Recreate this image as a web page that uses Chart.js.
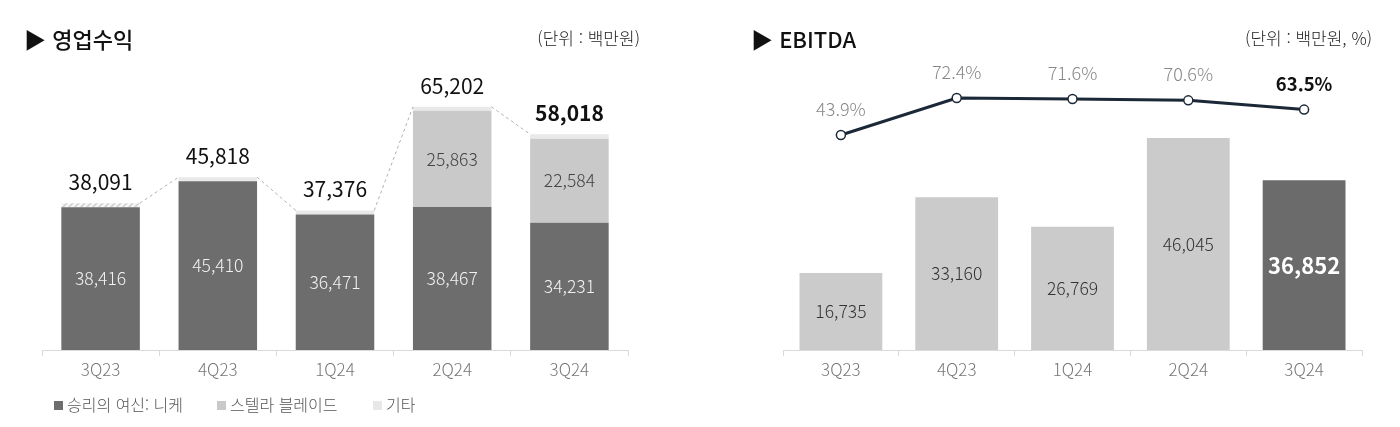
<!DOCTYPE html>
<html lang="ko">
<head>
<meta charset="utf-8">
<script src="https://cdn.jsdelivr.net/npm/chart.js@4.4.1/dist/chart.umd.min.js"></script>
<style>
  body { margin: 0; width: 1400px; height: 427px; background: #fff; position: relative; overflow: hidden;
         font-family: 'Noto Sans CJK KR', 'Noto Sans', sans-serif; }
  .title { position: absolute; top: 23px; font-size: 22px; font-weight: 500; color: #111; line-height: 30px; }
  .unit { position: absolute; top: 27px; font-size: 17px; font-weight: 300; color: #222; line-height: 22px; }
  .box { position: absolute; top: 0; width: 700px; height: 427px; }
  .legend { position: absolute; top: 393px; font-size: 16px; font-weight: 300; color: #555; line-height: 22px; white-space: nowrap; }
  .legend span.sq { display: inline-block; width: 9px; height: 9px; margin-right: 4px; vertical-align: 1px; }
</style>
</head>
<body>
<div class="box" style="left:0"><canvas id="revenueChart" width="700" height="427"></canvas></div>
<div class="box" style="left:700px"><canvas id="ebitdaChart" width="700" height="427"></canvas></div>

<div class="title" style="left:24px">▶ 영업수익</div>
<div class="unit" style="right:760px">(단위 : 백만원)</div>
<div class="title" style="left:751px">▶ EBITDA</div>
<div class="unit" style="right:28px">(단위 : 백만원, %)</div>

<div class="legend" style="left:54px"><span class="sq" style="background:#6d6d6d"></span>승리의 여신: 니케</div>
<div class="legend" style="left:217px"><span class="sq" style="background:#c9c9c9"></span>스텔라 블레이드</div>
<div class="legend" style="left:373px"><span class="sq" style="background:#e8e8e8"></span>기타</div>

<script>
// Data
const quarters = ['3Q23', '4Q23', '1Q24', '2Q24', '3Q24'];
const nikkeValues = [38416, 45410, 36471, 38467, 34231];
const stellarValues = [null, null, null, 25863, 22584];
const etcValues = [-325, 408, 905, 872, 1203];
const revenueTotals = [38091, 45818, 37376, 65202, 58018];

const ebitdaValues = [16735, 33160, 26769, 46045, 36852];
const marginValues = [43.9, 72.4, 71.6, 70.6, 63.5];

const FONT = "'Noto Sans CJK KR', 'Noto Sans', sans-serif";
const fmt = v => v.toLocaleString('en-US');

// Hatch pattern for negative 기타
function makeHatch() {
    const c = document.createElement('canvas');
    c.width = 6; c.height = 6;
    const g = c.getContext('2d');
    g.fillStyle = '#f5f5f5';
    g.fillRect(0, 0, 6, 6);
    g.strokeStyle = '#cdcdcd';
    g.lineWidth = 1.5;
    g.beginPath();
    g.moveTo(0, 6); g.lineTo(6, 0);
    g.moveTo(-1, 1); g.lineTo(1, -1);
    g.moveTo(5, 7); g.lineTo(7, 5);
    g.stroke();
    return g.createPattern(c, 'repeat');
}
const hatch = makeHatch();

// Shared x axis look
function xAxis() {
    return {
        grid: { display: true, drawOnChartArea: false, drawTicks: true, tickLength: 6, color: '#dadada' },
        border: { color: '#dadada' },
        ticks: { color: '#777', font: { family: FONT, size: 17, weight: '300' }, padding: 3 },
        afterFit: s => { s.height = 30; }
    };
}

// Labels for the revenue chart
const revenueLabels = {
    id: 'revenueLabels',
    afterDatasetsDraw(chart) {
        const ctx = chart.ctx;
        const nikke = chart.getDatasetMeta(0).data;
        const stellar = chart.getDatasetMeta(1).data;
        const etc = chart.getDatasetMeta(2).data;
        ctx.save();

        // dashed connectors between totals
        ctx.strokeStyle = '#b0b0b0';
        ctx.lineWidth = 1;
        ctx.setLineDash([3, 3]);
        for (let i = 0; i < etc.length - 1; i++) {
            const a = etc[i], b = etc[i + 1];
            ctx.beginPath();
            ctx.moveTo(a.x + a.width / 2, a.y);
            ctx.lineTo(b.x - b.width / 2, b.y);
            ctx.stroke();
        }
        ctx.setLineDash([]);

        ctx.textAlign = 'center';
        ctx.textBaseline = 'middle';
        ctx.font = `300 17.5px ${FONT}`;
        ctx.fillStyle = '#f2f2f2';
        nikke.forEach((bar, i) => {
            ctx.fillText(fmt(nikkeValues[i]), bar.x, (bar.y + bar.base) / 2);
        });
        ctx.fillStyle = '#444';
        stellar.forEach((bar, i) => {
            if (stellarValues[i] == null) return;
            ctx.fillText(fmt(stellarValues[i]), bar.x, (bar.y + bar.base) / 2);
        });
        etc.forEach((bar, i) => {
            const last = i === etc.length - 1;
            ctx.font = `${last ? 'bold' : '400'} 21px ${FONT}`;
            ctx.fillStyle = '#111';
            ctx.fillText(fmt(revenueTotals[i]), bar.x, bar.y - 21);
        });
        ctx.restore();
    }
};

new Chart(document.getElementById('revenueChart'), {
    type: 'bar',
    data: {
        labels: quarters,
        datasets: [
            { label: '승리의 여신: 니케', data: nikkeValues, backgroundColor: '#6d6d6d' },
            { label: '스텔라 블레이드', data: stellarValues, backgroundColor: '#c9c9c9' },
            { label: '기타', data: etcValues.map(Math.abs), minBarLength: 4,
              backgroundColor: etcValues.map(v => v < 0 ? hatch : '#e9e9e9') }
        ]
    },
    options: {
        responsive: false,
        animation: false,
        layout: { padding: { left: 42, right: 72, top: 60, bottom: 47 } },
        datasets: { bar: { categoryPercentage: 1, barPercentage: 0.67 } },
        scales: {
            x: Object.assign(xAxis(), { stacked: true }),
            y: { stacked: true, display: false, min: 0, max: 78000 }
        },
        plugins: { legend: { display: false }, tooltip: { enabled: false } }
    },
    plugins: [revenueLabels]
});

// Labels for the EBITDA chart
const ebitdaLabels = {
    id: 'ebitdaLabels',
    afterDatasetsDraw(chart) {
        const ctx = chart.ctx;
        const bars = chart.getDatasetMeta(1).data;
        const points = chart.getDatasetMeta(0).data;
        ctx.save();
        ctx.textAlign = 'center';
        ctx.textBaseline = 'middle';
        bars.forEach((bar, i) => {
            const last = i === bars.length - 1;
            ctx.font = `${last ? 'bold 22px' : '300 17.5px'} ${FONT}`;
            ctx.fillStyle = last ? '#fff' : '#333';
            ctx.fillText(fmt(ebitdaValues[i]), bar.x, (bar.y + bar.base) / 2);
        });
        points.forEach((pt, i) => {
            const last = i === points.length - 1;
            ctx.font = `${last ? 'bold 18.5px' : '300 18px'} ${FONT}`;
            ctx.fillStyle = last ? '#111' : '#888';
            ctx.fillText(marginValues[i].toFixed(1) + '%', pt.x, pt.y - 26);
        });
        ctx.restore();
    }
};

new Chart(document.getElementById('ebitdaChart'), {
    type: 'bar',
    data: {
        labels: quarters,
        datasets: [
            { type: 'line', label: 'EBITDA margin', data: marginValues, yAxisID: 'y1', order: 0,
              borderColor: '#1b2838', borderWidth: 3, tension: 0,
              pointRadius: 4.5, pointBackgroundColor: '#fff', pointBorderColor: '#1b2838', pointBorderWidth: 1.5 },
            { label: 'EBITDA', data: ebitdaValues, yAxisID: 'y', order: 1,
              backgroundColor: ['#cbcbcb', '#cbcbcb', '#cbcbcb', '#cbcbcb', '#6b6b6b'],
              categoryPercentage: 1, barPercentage: 0.715 }
        ]
    },
    options: {
        responsive: false,
        animation: false,
        layout: { padding: { left: 83, right: 38, top: 60, bottom: 47 } },
        scales: {
            x: xAxis(),
            y: { display: false, min: 0, max: 63000 },
            y1: { display: false, min: -121.7, max: 101.7 }
        },
        plugins: { legend: { display: false }, tooltip: { enabled: false } }
    },
    plugins: [ebitdaLabels]
});
</script>
</body>
</html>
